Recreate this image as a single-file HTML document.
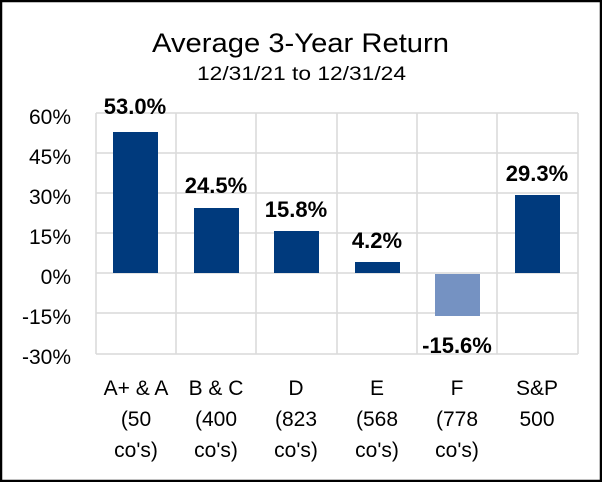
<!DOCTYPE html>
<html><head><style>
html,body{margin:0;padding:0;background:#fff;}
svg{display:block;}
text{font-family:"Liberation Sans",sans-serif;}
</style></head><body>
<svg width="602" height="482" xmlns="http://www.w3.org/2000/svg">
<rect x="1" y="1" width="600" height="480" fill="#fff" stroke="#000" stroke-width="2.5"/>
<text x="152" y="52" font-size="27" textLength="297" lengthAdjust="spacingAndGlyphs" fill="#000">Average 3-Year Return</text>
<text x="197" y="80" font-size="19" textLength="209" lengthAdjust="spacingAndGlyphs" fill="#000">12/31/21 to 12/31/24</text>
<g stroke="#d9d9d9" stroke-width="1.5">
<line x1="96" y1="113" x2="578" y2="113"/>
<line x1="96" y1="153" x2="578" y2="153"/>
<line x1="96" y1="193" x2="578" y2="193"/>
<line x1="96" y1="233" x2="578" y2="233"/>
<line x1="96" y1="273" x2="578" y2="273"/>
<line x1="96" y1="313" x2="578" y2="313"/>
<line x1="96" y1="354" x2="578" y2="354"/>
<line x1="96" y1="113" x2="96" y2="354"/>
<line x1="176" y1="113" x2="176" y2="354"/>
<line x1="256" y1="113" x2="256" y2="354"/>
<line x1="337" y1="113" x2="337" y2="354"/>
<line x1="417" y1="113" x2="417" y2="354"/>
<line x1="497" y1="113" x2="497" y2="354"/>
<line x1="578" y1="113" x2="578" y2="354"/>
</g>
<g font-size="21" text-anchor="end" fill="#000">
<text x="71" y="124">60%</text>
<text x="71" y="164">45%</text>
<text x="71" y="204">30%</text>
<text x="71" y="244">15%</text>
<text x="71" y="284">0%</text>
<text x="71" y="324">-15%</text>
<text x="71" y="364">-30%</text>
</g>
<g fill="#003a7d">
<rect x="113" y="132" width="45" height="141"/>
<rect x="194" y="208" width="45" height="65"/>
<rect x="274" y="231" width="45" height="42"/>
<rect x="355" y="262" width="45" height="11"/>
<rect x="515" y="195" width="45" height="78"/>
</g>
<rect x="435" y="274" width="45" height="42" fill="#7592c2"/>
<g font-size="22" font-weight="bold" text-anchor="middle" fill="#000">
<text x="135" y="114">53.0%</text>
<text x="216" y="193">24.5%</text>
<text x="296" y="217">15.8%</text>
<text x="377" y="248">4.2%</text>
<text x="457" y="353">-15.6%</text>
<text x="537" y="181">29.3%</text>
</g>
<g font-size="21" text-anchor="middle" fill="#000">
<text x="136" y="395">A+ &amp; A</text><text x="136" y="426">(50</text><text x="136" y="457">co's)</text>
<text x="216" y="395">B &amp; C</text><text x="216" y="426">(400</text><text x="216" y="457">co's)</text>
<text x="296" y="395">D</text><text x="296" y="426">(823</text><text x="296" y="457">co's)</text>
<text x="377" y="395">E</text><text x="377" y="426">(568</text><text x="377" y="457">co's)</text>
<text x="457" y="395">F</text><text x="457" y="426">(778</text><text x="457" y="457">co's)</text>
<text x="537" y="395">S&amp;P</text><text x="537" y="426">500</text>
</g>
</svg>
</body></html>
